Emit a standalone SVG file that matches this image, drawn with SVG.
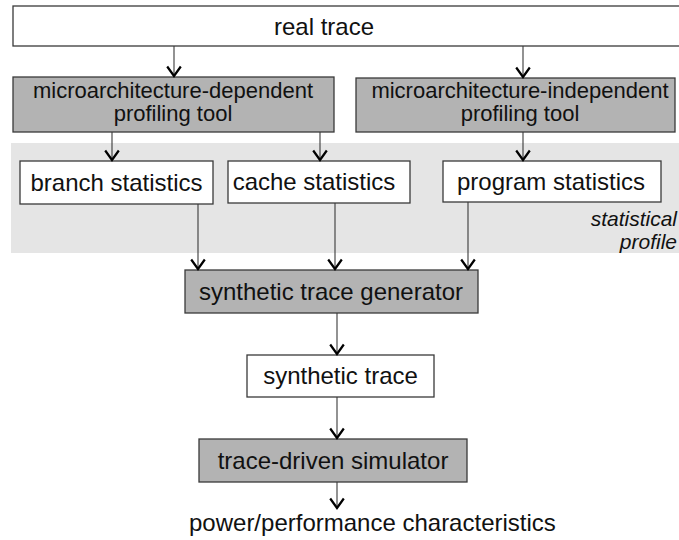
<svg xmlns="http://www.w3.org/2000/svg" width="679" height="540" viewBox="0 0 679 540">
<defs>
<style>
.box{stroke:#3a3a3a;stroke-width:1.3}
.w{fill:#ffffff}
.g{fill:#b3b3b3}
text{font-family:"Liberation Sans",Arial,sans-serif;fill:#111;}
.t24{font-size:24px;text-anchor:middle}
.t22{font-size:22px;text-anchor:middle}
.it{font-size:21px;font-style:italic;text-anchor:end}
.conn line{stroke:#3a3a3a;stroke-width:1.1;marker-end:url(#arr)}
</style>
<marker id="arr" markerUnits="userSpaceOnUse" refX="0" refY="0" markerWidth="20" markerHeight="20" orient="auto" overflow="visible">
<path d="M-9.5,-6.8 L0,0 L-9.5,6.8" fill="none" stroke="#000" stroke-width="2.2"/>
</marker>
</defs>
<rect id="profile-region" x="11" y="143" width="670" height="110" fill="#e5e5e5"/>
<g id="real-trace"><rect class="box w" x="13" y="6" width="675" height="40"/><text class="t24" x="324" y="35">real trace</text></g>
<g id="dep-tool"><rect class="box g" x="13" y="77" width="321" height="55"/><text class="t22" x="173" y="98">microarchitecture-dependent</text><text class="t22" x="173" y="121">profiling tool</text></g>
<g id="indep-tool"><rect class="box g" x="356" y="78" width="319" height="54"/><text class="t22" x="520" y="98">microarchitecture-independent</text><text class="t22" x="520" y="121">profiling tool</text></g>
<g id="branch"><rect class="box w" x="20" y="161" width="193" height="43"/><text class="t24" x="116.5" y="190.5">branch statistics</text></g>
<g id="cache"><rect class="box w" x="228" y="161" width="182" height="42"/><text class="t24" x="314" y="190">cache statistics</text></g>
<g id="program"><rect class="box w" x="443" y="161" width="218" height="41"/><text class="t24" x="551" y="189.5">program statistics</text></g>
<g id="profile-label"><text class="it" x="677" y="226">statistical</text><text class="it" x="677" y="249">profile</text></g>
<g id="generator"><rect class="box g" x="185" y="270" width="293" height="43"/><text class="t24" x="331" y="300">synthetic trace generator</text></g>
<g id="synthetic-trace"><rect class="box w" x="247" y="355" width="187" height="42"/><text class="t24" x="340.5" y="384">synthetic trace</text></g>
<g id="simulator"><rect class="box g" x="199" y="439" width="268" height="43"/><text class="t24" x="333" y="468.5">trace-driven simulator</text></g>
<g id="output"><text style="font-size:24px" x="189" y="531">power/performance characteristics</text></g>
<g class="conn">
<line x1="174" y1="46" x2="174" y2="76"/>
<line x1="523" y1="46" x2="523" y2="77"/>
<line x1="112" y1="132" x2="112" y2="160"/>
<line x1="320" y1="132" x2="320" y2="160"/>
<line x1="523" y1="132" x2="523" y2="160"/>
<line x1="198" y1="204" x2="198" y2="269"/>
<line x1="335" y1="203" x2="335" y2="269"/>
<line x1="468" y1="202" x2="468" y2="269"/>
<line x1="337" y1="313" x2="337" y2="354"/>
<line x1="337" y1="397" x2="337" y2="438"/>
<line x1="337" y1="482" x2="337" y2="508"/>
</g>
</svg>
